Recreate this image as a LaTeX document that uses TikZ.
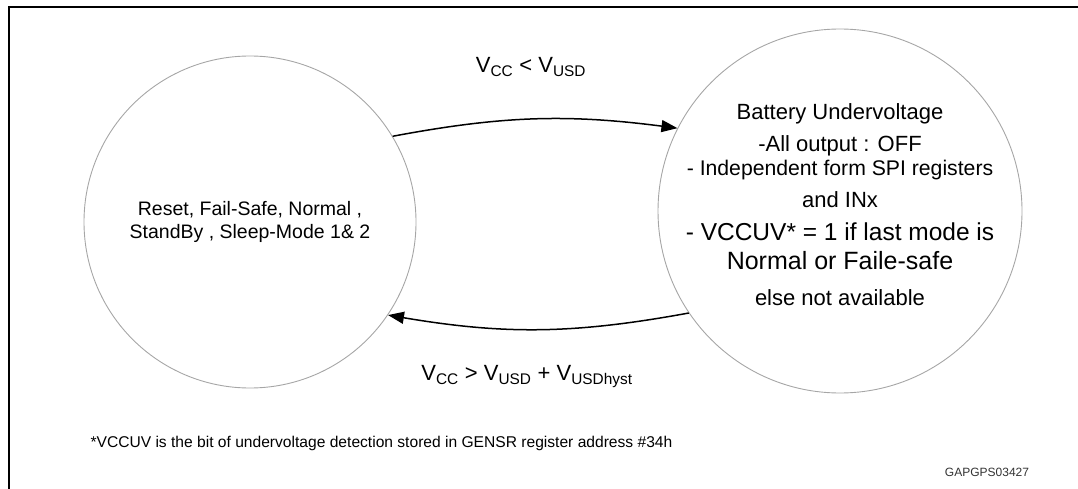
\documentclass[tikz,border=0pt]{standalone}
\usepackage{fontspec}
\setmainfont{Liberation Sans}
\usepackage{tikz}
\usetikzlibrary{arrows.meta, positioning}
\tikzstyle{state} = [circle, draw=gray!70, line width=0.9pt, inner sep=0pt, align=center]
\tikzstyle{arrow} = [line width=1.5pt, -{Triangle[length=16pt,width=12pt]}]
\tikzstyle{cond} = [font=\fontsize{22}{26}\selectfont]

\begin{document}
\begin{tikzpicture}[x=1pt, y=1pt]
\useasboundingbox (0,0) rectangle (1078,-489);
% Frame
\draw [line width=2pt] (1078,-7) -- (9,-7) -- (9,-489);
% Define nodes
\node (modes) [state, minimum size=332pt, font=\fontsize{19.5}{23}\selectfont] at (250,-222) {Reset, Fail-Safe, Normal ,\\StandBy , Sleep-Mode 1\& 2};
\node (uv) [state, minimum size=364pt] at (840,-211) {};
\node (uvText) [align=center, font=\fontsize{22}{27}\selectfont] at ([yshift=6pt]uv.center) {Battery Undervoltage\\[5pt]
  -All output : OFF\\[-3pt]
  {\fontsize{21.2}{27}\selectfont - Independent form SPI registers}\\[5pt]
  and INx\\[6pt]
  {\fontsize{24.5}{27}\selectfont - VCCUV* = 1 if last mode is}\\[2pt]
  {\fontsize{25}{27}\selectfont Normal or Faile-safe}\\[9pt]
  else not available};
\node (lowLabel) [cond] at (531,-67) {V\textsubscript{CC} < V\textsubscript{USD}};
\node (backLabel) [cond] at (527,-377) {V\textsubscript{CC} > V\textsubscript{USD} + V\textsubscript{USDhyst}};
\node (note) [anchor=west, font=\fontsize{15.6}{18}\selectfont] at (87,-443) {*VCCUV is the bit of undervoltage detection stored in GENSR register address \#34h};
\node (figId) [font=\fontsize{12}{14}\selectfont, text=black!80] at (987,-472) {GAPGPS03427};
% Connect nodes with arrows
\draw [arrow] (modes.31.6) to [bend left=9] (uv.153);
\draw [arrow] (uv.214) to [bend left=10] (modes.326.4);
\end{tikzpicture}
\end{document}
